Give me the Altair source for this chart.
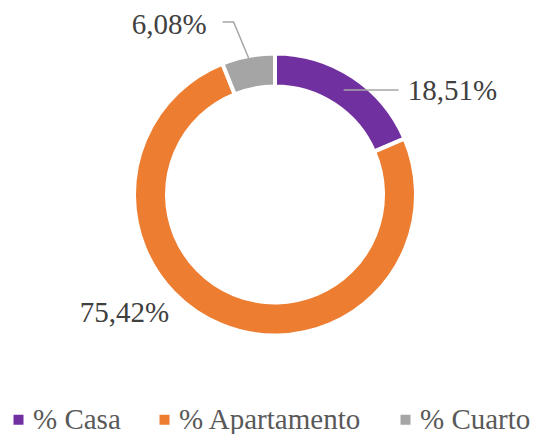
import math
import altair as alt
import pandas as pd

# ---- data ----
categories = ["% Casa", "% Apartamento", "% Cuarto"]
values = [18.51, 75.42, 6.08]
label_texts = ["18,51%", "75,42%", "6,08%"]
colors = ["#7030A0", "#ED7D31", "#A5A5A5"]

# ---- layout ----
W, H = 527, 426
CX, CY = 267, 186.5
R_OUT, R_IN = 141, 108
FONT = "Liberation Serif"

df = pd.DataFrame({"cat": categories, "value": values, "idx": range(len(categories))})

# mid angles (clockwise from top) derived from the data
total = sum(values)
mids = []
acc = 0.0
for v in values:
    mids.append((acc + v / 2) / total * 2 * math.pi)
    acc += v

def polar(r, a):
    return CX + r * math.sin(a), CY - r * math.cos(a)

# anchor radius and label offsets per slice (layout only)
anchor_r = [125, 141, 139]
label_off = [(64, 1), (-97, -12), (-42, -33)]
label_align = ["left", "center", "right"]
# leader line offsets relative to anchor (None = no leader)
leader_pts = [[(0, 0), (55, 0)], None, [(0, 0), (-15, -36), (-26, -36)]]

lab_rows, line_rows = [], []
for i in range(len(values)):
    ax, ay = polar(anchor_r[i], mids[i])
    dx, dy = label_off[i]
    lab_rows.append({"x": ax + dx, "y": ay + dy, "text": label_texts[i], "align": label_align[i]})
    if leader_pts[i]:
        for k, (ox, oy) in enumerate(leader_pts[i]):
            line_rows.append({"x": ax + ox, "y": ay + oy, "k": k, "g": i})

lab_df = pd.DataFrame(lab_rows)
line_df = pd.DataFrame(line_rows)

donut = alt.Chart(df).mark_arc(
    radius=R_OUT, radius2=R_IN, stroke="white", strokeWidth=4
).encode(
    theta=alt.Theta("value:Q", stack=True),
    order=alt.Order("idx:Q"),
    color=alt.Color(
        "cat:N",
        scale=alt.Scale(domain=categories, range=colors),
        sort=categories,
        legend=alt.Legend(
            title=None, orient="none", legendX=-4, legendY=397,
            direction="horizontal", symbolType="square", symbolSize=100,
            symbolStrokeWidth=0, labelFont=FONT, labelFontSize=29,
            labelColor="#595959", columnPadding=29, labelOffset=0,
            labelLimit=400, padding=0,
        ),
    ),
    x=alt.value(CX),
    y=alt.value(CY),
)

leaders = alt.Chart(line_df).mark_line(color="#A6A6A6", strokeWidth=1.5).encode(
    x=alt.X("x:Q", scale=None),
    y=alt.Y("y:Q", scale=None),
    detail="g:N",
    order="k:Q",
)

def label_layer(align):
    return alt.Chart(lab_df[lab_df["align"] == align]).mark_text(
        font=FONT, fontSize=29, color="#404040", align=align, baseline="middle"
    ).encode(
        x=alt.X("x:Q", scale=None),
        y=alt.Y("y:Q", scale=None),
        text="text:N",
    )

chart = alt.layer(
    donut, leaders, label_layer("left"), label_layer("center"), label_layer("right")
).properties(
    width=W, height=H, padding=0, autosize=alt.AutoSizeParams(type="none")
).configure_view(stroke=None)

chart.save("out.html", embed_options={"renderer": "svg", "actions": False})
